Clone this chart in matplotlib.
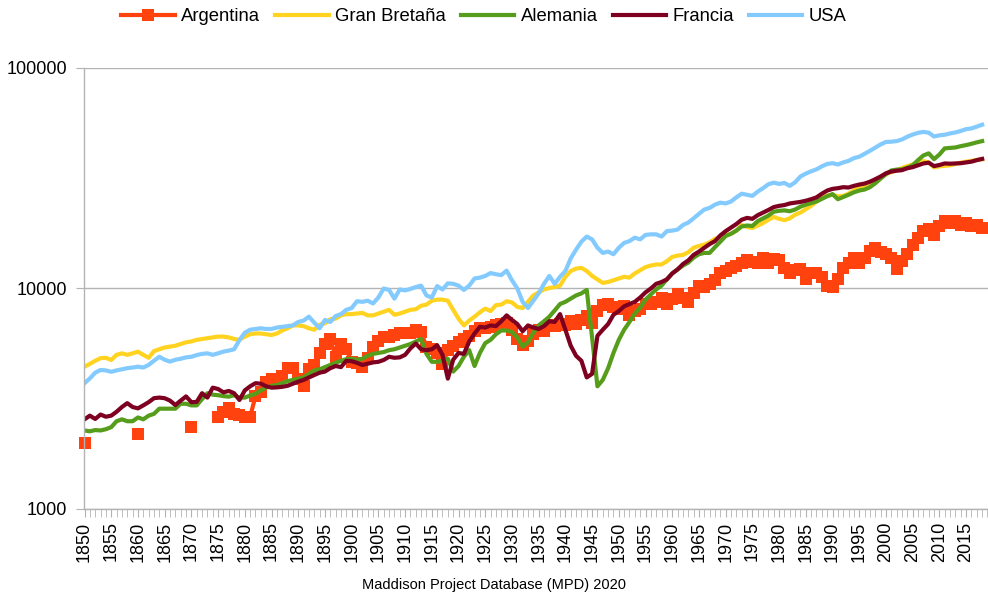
import matplotlib
matplotlib.use("Agg")
import matplotlib.pyplot as plt
import numpy as np
from matplotlib.ticker import FixedLocator, MultipleLocator, NullFormatter

plt.rcParams['font.family'] = ['Liberation Sans', 'DejaVu Sans']

years = np.arange(1850, 2019)
nan = np.nan

argentina = [
    2000, nan, nan, nan, nan, nan, nan, nan, nan, nan,
    2190, nan, nan, nan, nan, nan, nan, nan, nan, nan,
    2350, nan, nan, nan, nan, 2620, 2750, 2860, 2700, 2670,
    2600, 2620, 3250, 3400, 3750, 3900, 3850, 4000, 4350, 4380,
    3900, 3620, 4300, 4500, 5100, 5600, 5900, 4900, 5600, 5300,
    4650, 4600, 4400, 4850, 5400, 5800, 6000, 6000, 6150, 6250,
    6300, 6300, 6450, 6350, 5400, 5300, 5100, 4550, 5250, 5500,
    5700, 5900, 6100, 6400, 6600, 6600, 6700, 6800, 6900, 7000,
    6500, 5900, 5550, 5750, 6200, 6450, 6400, 6800, 6750, 6900,
    6850, 7100, 6900, 7200, 7500, 6950, 7900, 8400, 8500, 8200,
    8100, 8300, 7600, 7900, 8100, 8500, 8500, 8700, 9100, 8500,
    9000, 9400, 9100, 8700, 9500, 10300, 10200, 10500, 10900, 11700,
    12000, 12400, 12600, 13000, 13500, 13200, 13000, 13700, 13000, 13600,
    13500, 12400, 11800, 12100, 12200, 11000, 11700, 11800, 11300, 10300,
    10200, 11000, 12400, 13000, 13700, 13100, 13700, 14800, 15300, 14700,
    14400, 13700, 12200, 13300, 14400, 15800, 17000, 18300, 18700, 17500,
    19300, 20300, 19900, 20200, 19500, 19800, 19200, 19500, 18900,
]

gran_bretana = [
    4420, 4550, 4700, 4830, 4850, 4740, 5000, 5080, 5000, 5080,
    5170, 5000, 4850, 5200, 5300, 5400, 5450, 5500, 5600, 5700,
    5750, 5850, 5900, 5950, 6000, 6050, 6050, 6000, 5900, 5850,
    6050, 6200, 6250, 6250, 6200, 6150, 6250, 6450, 6600, 6800,
    6800, 6750, 6600, 6500, 6850, 6950, 7250, 7300, 7550, 7650,
    7650, 7700, 7750, 7550, 7550, 7700, 7850, 8000, 7600, 7700,
    7850, 8000, 8050, 8350, 8450, 8800, 8900, 8900, 8800, 8000,
    7300, 6800, 7150, 7450, 7800, 8100, 7900, 8400, 8450, 8750,
    8650, 8250, 8150, 8700, 9300, 9600, 9900, 10050, 10150, 10300,
    11300, 12000, 12300, 12400, 12000, 11400, 11000, 10600, 10700, 10900,
    11100, 11300, 11200, 11700, 12100, 12500, 12700, 12850, 12850, 13300,
    13900, 14100, 14200, 14600, 15300, 15600, 15800, 16200, 16800, 17100,
    17400, 17700, 18300, 19400, 19000, 18800, 19300, 19800, 20500, 21100,
    20700, 20400, 20800, 21600, 22100, 22900, 23700, 24800, 25900, 26400,
    26600, 26200, 26300, 26900, 27900, 28500, 29200, 30200, 31100, 32000,
    33000, 33700, 34300, 35200, 35900, 36500, 37200, 37800, 37300, 35400,
    35800, 36000, 36200, 36700, 37200, 37600, 37900, 38300, 38500,
]

alemania = [
    2270, 2250, 2280, 2270, 2300, 2350, 2500, 2550, 2500, 2500,
    2600, 2550, 2650, 2700, 2850, 2850, 2850, 2850, 3000, 3000,
    2950, 2950, 3150, 3350, 3300, 3280, 3250, 3230, 3280, 3200,
    3200, 3270, 3330, 3450, 3550, 3620, 3650, 3720, 3800, 3850,
    3900, 3950, 4100, 4250, 4300, 4400, 4500, 4600, 4700, 4780,
    4800, 4750, 4800, 4950, 5050, 5100, 5150, 5250, 5300, 5400,
    5500, 5600, 5750, 5900, 5050, 4650, 4650, 4700, 4800, 4200,
    4450, 4900, 5250, 4450, 5100, 5650, 5850, 6200, 6450, 6450,
    6350, 6000, 5450, 5700, 6300, 6800, 7100, 7450, 7950, 8500,
    8700, 9000, 9300, 9500, 9850, 6000, 3600, 3850, 4350, 5100,
    5850, 6500, 7050, 7700, 8200, 8900, 9400, 9900, 10300, 11000,
    11700, 12200, 12700, 13100, 13800, 14300, 14500, 14500, 15400, 16300,
    17300, 17700, 18300, 19100, 19300, 19200, 20200, 20800, 21400, 22300,
    22500, 22600, 22400, 22800, 23500, 24000, 24400, 24800, 25500, 26200,
    26800, 25400, 26000, 26600, 27300, 27800, 28100, 28800, 30000, 31500,
    33000, 34300, 34600, 34700, 35300, 36200, 38200, 40100, 41000, 38600,
    40500, 43200, 43400, 43600, 44200, 44700, 45300, 46000, 46600,
]

francia = [
    2550, 2650, 2560, 2680, 2620, 2650, 2760, 2900, 3020, 2900,
    2860, 2950, 3050, 3180, 3200, 3180, 3100, 2960, 3100, 3240,
    3050, 3060, 3350, 3200, 3550, 3500, 3380, 3430, 3350, 3120,
    3450, 3600, 3720, 3700, 3600, 3550, 3560, 3580, 3620, 3700,
    3780, 3850, 3950, 4050, 4150, 4200, 4350, 4450, 4400, 4700,
    4680, 4600, 4500, 4560, 4620, 4650, 4740, 4900, 4850, 4870,
    5000, 5350, 5630, 5300, 5250, 5300, 5530, 5000, 3900, 4750,
    5100, 5050, 5750, 6250, 6700, 6650, 6800, 6750, 7100, 7550,
    7200, 6900, 6400, 6800, 6650, 6550, 6750, 7100, 7050, 7650,
    6500, 5500, 4950, 4700, 3950, 4100, 6100, 6500, 6900, 7600,
    7900, 8300, 8500, 8700, 9100, 9600, 10000, 10500, 10700, 11000,
    11700, 12200, 12900, 13400, 14200, 14700, 15300, 15900, 16400, 17400,
    18200, 18900, 19600, 20500, 20900, 20700, 21500, 22100, 22700, 23400,
    23700, 23900, 24300, 24500, 24700, 25000, 25400, 25900, 26900, 27800,
    28300, 28500, 28800, 28700, 29200, 29600, 29900, 30500, 31300, 32200,
    33300, 33900, 34200, 34400, 35100, 35500, 36200, 36900, 37200, 35900,
    36300, 36900, 36800, 36900, 37000, 37300, 37600, 38200, 38700,
]

usa = [
    3720, 3910, 4150, 4270, 4250, 4190, 4250, 4300, 4350, 4380,
    4420, 4380, 4500, 4700, 4900, 4750, 4660, 4750, 4800, 4870,
    4900, 4990, 5050, 5080, 5000, 5080, 5170, 5230, 5300, 5830,
    6300, 6500, 6550, 6600, 6550, 6550, 6650, 6700, 6750, 6800,
    7050, 7150, 7450, 7000, 6600, 7200, 7050, 7500, 7650, 8000,
    8150, 8750, 8700, 8800, 8550, 9100, 10000, 9850, 9000, 9900,
    9800, 9950, 10150, 10300, 9300, 9100, 10250, 9900, 10550, 10500,
    10300, 9850, 10300, 11100, 11200, 11400, 11750, 11600, 11500, 12050,
    10900, 10000, 8700, 8150, 8800, 9500, 10500, 11400, 10500, 11300,
    12000, 13700, 15000, 16300, 17200, 16700, 15300, 14500, 14700, 14300,
    15300, 16100, 16400, 17000, 16700, 17500, 17600, 17600, 17200, 18200,
    18300, 18500, 19400, 19900, 20800, 21800, 22800, 23200, 24000, 24500,
    24300, 24800, 25900, 26900, 26600, 26300, 27500, 28500, 29700, 30200,
    29800, 30100, 29200, 30300, 32200, 33200, 34000, 34700, 35800, 36700,
    37000, 36500, 37300, 37900, 39000, 39600, 40800, 42100, 43500, 45000,
    46200, 46300, 46600, 47400, 48800, 49900, 50800, 51300, 50900, 48900,
    49500, 49800, 50500, 51000, 51800, 52800, 53200, 54200, 55300,
]

names = ['Argentina', 'Gran Bretaña', 'Alemania', 'Francia', 'USA']
colors = ['#ff420e', '#ffd320', '#579d1c', '#7e0021', '#83caff']
series = [argentina, gran_bretana, alemania, francia, usa]

fig = plt.figure(figsize=(9.88, 5.99), dpi=100)
ax = fig.add_axes([0.085, 0.1503, 0.915, 0.7362])

grey = '#b3b3b3'
ax.set_yscale('log')
ax.set_ylim(1000, 100000)
ax.set_xlim(1849.9, 2019.1)
ax.yaxis.set_major_locator(FixedLocator([1000, 10000, 100000]))
ax.yaxis.set_minor_locator(FixedLocator([]))
ax.set_yticklabels(['1000', '10000', '100000'])
ax.grid(axis='y', color=grey, lw=1)
ax.set_axisbelow(True)

ax.xaxis.set_major_locator(MultipleLocator(5))
ax.xaxis.set_minor_locator(MultipleLocator(1))
ax.xaxis.set_minor_formatter(NullFormatter())
ax.tick_params(axis='x', which='both', direction='out', length=6, color=grey,
               labelsize=13, labelrotation=90, pad=3)
ax.tick_params(axis='y', which='major', direction='out', length=6, color=grey,
               labelsize=13, pad=6)

for side in ['top', 'right']:
    ax.spines[side].set_visible(False)
for side in ['left', 'bottom']:
    ax.spines[side].set_color(grey)
    ax.spines[side].set_linewidth(1)

for name, vals, c in zip(names, series, colors):
    y = np.array(vals, dtype=float)
    if name == 'Argentina':
        ax.plot(years, y, color=c, lw=3, marker='s', markersize=8,
                markeredgewidth=0, label=name, clip_on=False)
    else:
        ax.plot(years, y, color=c, lw=3, solid_joinstyle='round', label=name)

fig.legend(loc='center', bbox_to_anchor=(0.49, 0.972), ncol=5, frameon=False,
           fontsize=13.3, handlelength=2.9, handletextpad=0.35, columnspacing=0.8)

fig.text(0.5, 1 - 585 / 599, 'Maddison Project Database (MPD) 2020',
         ha='center', va='center', fontsize=10.5)

fig.savefig('out.png', dpi=100)
